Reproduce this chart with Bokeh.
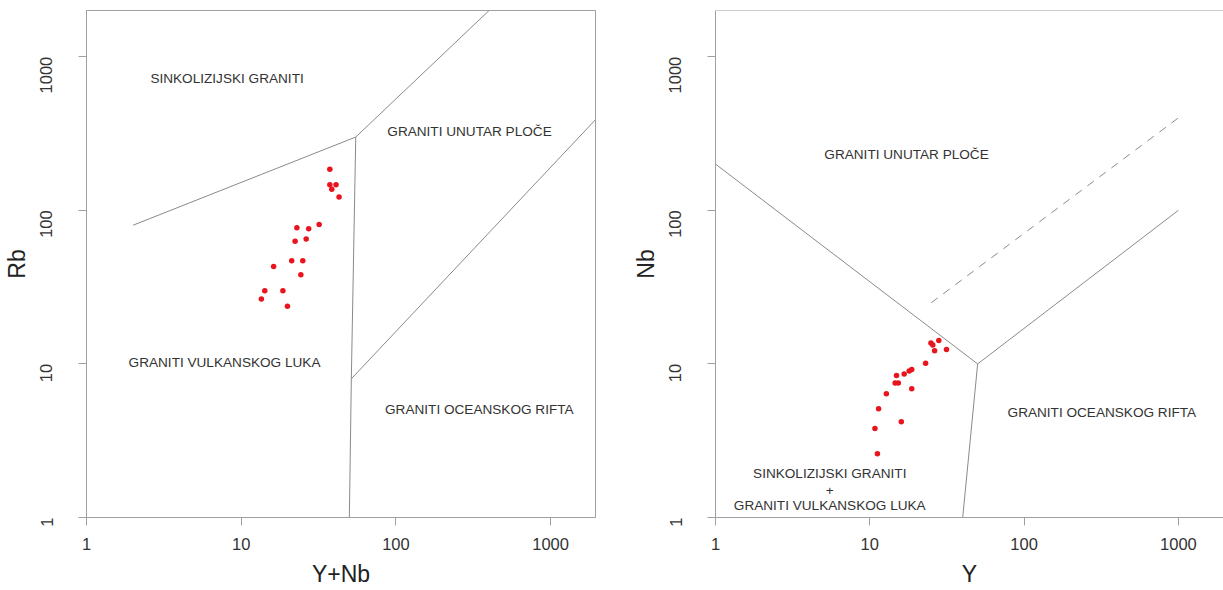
import math
from bokeh.plotting import figure
from bokeh.models import Range1d, FixedTicker, PrintfTickFormatter, Span
from bokeh.layouts import row
from bokeh.core.properties import value
from bokeh.embed import file_html
from bokeh.resources import INLINE

# ---------------- data ----------------
# Left diagram: Rb vs (Y+Nb)
ynb = [37.4, 37.4, 41.0, 38.5, 42.9, 31.9, 22.9, 27.3, 22.3, 26.3, 21.2, 25.0, 16.2, 24.3, 14.2, 18.6, 13.5, 19.9]
rb = [185, 147, 147, 137, 122, 81, 77, 76, 63, 65, 47, 47, 43, 38, 30, 30, 26.5, 23.7]

# Right diagram: Nb vs Y
yy = [28.0, 24.9, 25.6, 31.4, 26.3, 23.0, 18.7, 18.0, 16.7, 14.9, 14.6, 15.3, 18.7, 12.8, 11.4, 16.0, 10.8, 11.2]
nb = [14.2, 13.7, 13.3, 12.4, 12.2, 10.1, 9.2, 9.0, 8.6, 8.4, 7.5, 7.5, 6.9, 6.4, 5.1, 4.2, 3.8, 2.6]

# Field boundaries (Pearce et al. 1984)
left_lines_x = [[2, 55], [55, 51.5, 50], [51.5, 2000], [55, 400]]
left_lines_y = [[80, 300], [300, 8, 1], [8, 400], [300, 2000]]
right_lines_x = [[1, 50], [50, 40], [50, 1000]]
right_lines_y = [[200, 10], [10, 1], [10, 100]]
right_dash_x = [25, 1000]
right_dash_y = [25, 400]

left_labels = ["SINKOLIZIJSKI GRANITI", "GRANITI UNUTAR PLOČE", "GRANITI VULKANSKOG LUKA", "GRANITI OCEANSKOG RIFTA"]
left_label_x = [8.1, 299, 7.8, 346]
left_label_y = [723, 325, 10.2, 5.05]
right_labels = ["GRANITI UNUTAR PLOČE", "GRANITI OCEANSKOG RIFTA", "SINKOLIZIJSKI GRANITI", "+", "GRANITI VULKANSKOG LUKA"]
right_label_x = [17.3, 319, 5.5, 5.5, 5.5]
right_label_y = [230, 4.83, 1.92, 1.51, 1.20]

ticks = [1, 10, 100, 1000]

FONT = "Liberation Sans"
FRAME = "#a0a0a0"
LINE = "#8a8a8a"
RED = "#e8141e"


def make_fig(width, xend, mbl, mbr, xlabel, ylabel, outline):
    p = figure(width=width, height=590, x_axis_type="log", y_axis_type="log",
               x_range=Range1d(1, xend), y_range=Range1d(1, 2000),
               output_backend="svg", toolbar_location=None,
               min_border_left=mbl, min_border_right=mbr,
               min_border_top=10, min_border_bottom=73)
    p.grid.visible = False
    p.outline_line_color = FRAME if outline else None
    p.background_fill_color = "white"
    p.border_fill_color = "white"
    for ax in (p.xaxis[0], p.yaxis[0]):
        ax.ticker = FixedTicker(ticks=ticks, minor_ticks=[])
        ax.formatter = PrintfTickFormatter(format="%d")
        ax.major_tick_out = 8
        ax.major_tick_in = 0
        ax.minor_tick_out = 0
        ax.minor_tick_in = 0
        ax.axis_line_color = FRAME
        ax.major_tick_line_color = FRAME
        ax.minor_tick_line_color = None
        ax.major_label_text_font = FONT
        ax.major_label_text_font_size = "16.5px"
        ax.major_label_text_color = "#333333"
        ax.axis_label_text_font = FONT
        ax.axis_label_text_font_size = "23px"
        ax.axis_label_text_font_style = "normal"
        ax.axis_label_text_color = "#222222"
    p.xaxis.axis_label = xlabel
    p.yaxis.axis_label = ylabel
    p.xaxis.major_label_standoff = 12
    p.xaxis.axis_label_standoff = 8
    p.yaxis.major_label_standoff = 32
    p.yaxis.axis_label_standoff = 2
    p.yaxis.major_label_orientation = math.pi / 2
    return p


left = make_fig(610, 1950, 86, 15, "Y+Nb", "Rb", True)
left.multi_line(left_lines_x, left_lines_y, line_color=LINE, line_width=1)
left.scatter(ynb, rb, size=5.5, color=RED, line_color=None)
left.text(left_label_x, left_label_y, text=left_labels, text_font=value(FONT),
          text_font_size="13.6px", text_color="#333333", text_align="center",
          text_baseline="middle")

right = make_fig(613, 1960, 105, 0, "Y", "Nb", False)
right.add_layout(Span(location=2000, dimension="width", line_color=FRAME, line_width=1))
right.multi_line(right_lines_x, right_lines_y, line_color=LINE, line_width=1)
right.line(right_dash_x, right_dash_y, line_color=LINE, line_width=1, line_dash="8 7")
right.scatter(yy, nb, size=5.5, color=RED, line_color=None)
right.text(right_label_x, right_label_y, text=right_labels, text_font=value(FONT),
           text_font_size="13.6px", text_color="#333333", text_align="center",
           text_baseline="middle")

layout = row(left, right)
open("out.html", "w").write(file_html(layout, INLINE))
